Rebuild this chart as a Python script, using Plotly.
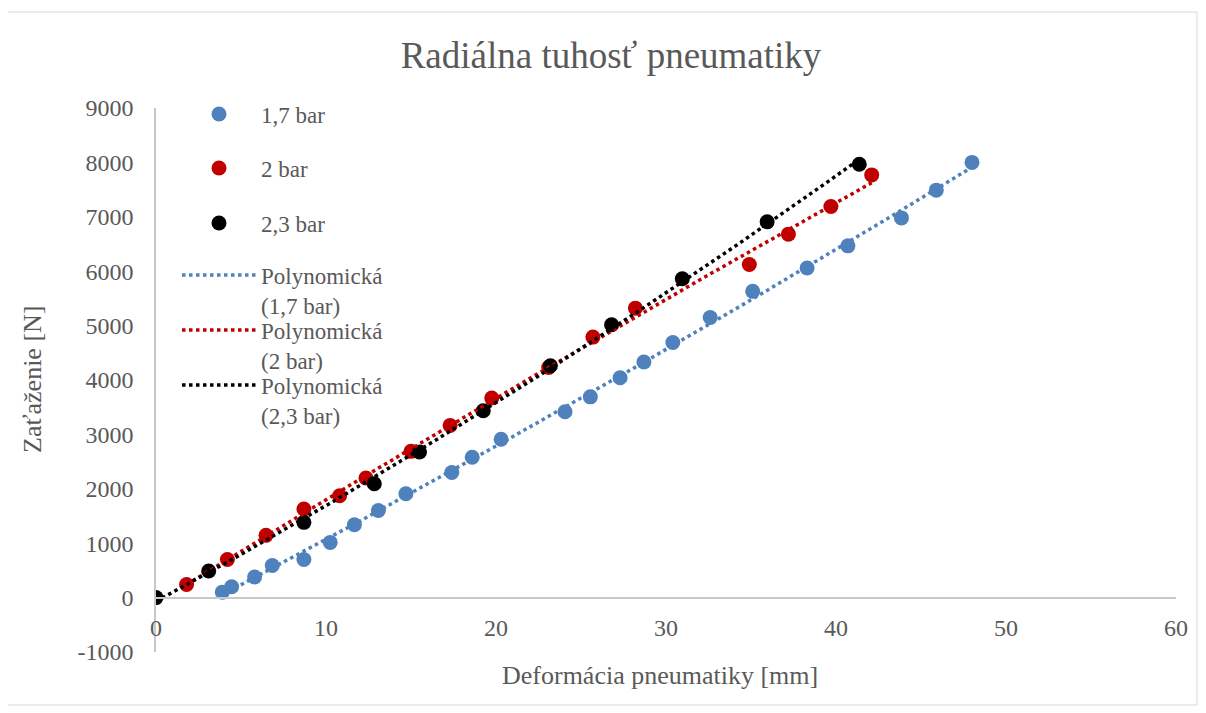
import numpy as np
import plotly.graph_objects as go

# ---- data ----
blue_x = [3.9, 4.45, 5.8, 6.84, 8.7, 10.25, 11.67, 13.08, 14.7, 17.4, 18.6, 20.3,
          24.06, 25.55, 27.3, 28.7, 30.4, 32.6, 35.1, 38.3, 40.7, 43.85, 45.9, 48.0]
blue_y = [100, 200, 380, 590, 700, 1015, 1340, 1600, 1910, 2300, 2580, 2910,
          3415, 3690, 4040, 4330, 4690, 5150, 5630, 6060, 6466, 6980, 7490, 8000]

red_x = [1.8, 4.2, 6.47, 8.7, 10.8, 12.35, 15.0, 17.3, 19.75, 23.1, 25.7, 28.2,
         34.9, 37.2, 39.7, 42.1]
red_y = [240, 700, 1144, 1629, 1873, 2198, 2688, 3165, 3668, 4230, 4789, 5321,
         6123, 6681, 7189, 7770]

black_x = [0, 3.1, 8.7, 12.84, 15.5, 19.25, 23.2, 26.8, 30.96, 35.95, 41.37]
black_y = [0, 490, 1383, 2094, 2676, 3435, 4262, 5015, 5860, 6907, 7966]

series_names = ["1,7 bar", "2 bar", "2,3 bar"]
trend_names = ["Polynomická<br>(1,7 bar)", "Polynomická<br>(2 bar)", "Polynomická<br>(2,3 bar)"]
colors = ["#4F81BD", "#C00000", "#000000"]

x_ticks = [0, 10, 20, 30, 40, 50, 60]
y_ticks = [-1000, 0, 1000, 2000, 3000, 4000, 5000, 6000, 7000, 8000, 9000]
y_tick_text = ["-1000", "0", "1000", "2000", "3000", "4000", "5000", "6000", "7000", "8000", "9000"]

FONT = "Liberation Serif"
GRAY = "#595959"

W, H = 1206, 713
OFF = 8  # page body margin
# plot area in screen pixels
SX0, SX1, SY0, SY1 = 156, 1176, 108, 652
L = SX0 - OFF
T = SY0 - OFF
pw = SX1 - SX0
ph = SY1 - SY0
R = W - L - pw
B = H - T - ph


def px(xs):
    return (xs - SX0) / pw


def py(ys):
    return (SY1 - ys) / ph


fig = go.Figure()
data = [(blue_x, blue_y), (red_x, red_y), (black_x, black_y)]

# legend row centres (screen y) in the reference
marker_rows = [114, 168, 223]
trend_rows = [275, 330, 385]
ITEMW = 74
LEG_X = 219 - (ITEMW / 2 + 5)
LEG_FONT = 23
line_h = LEG_FONT * 1.3

legends = {}
for i, ((xs, ys), name, col) in enumerate(zip(data, series_names, colors)):
    key = "legend" if i == 0 else f"legend{i + 1}"
    fig.add_trace(go.Scatter(
        x=xs, y=ys, mode="markers", name=name, legend=key,
        marker=dict(color=col, size=15, line=dict(width=0)),
    ))
    legends[key] = dict(x=px(LEG_X), y=py(marker_rows[i]), xanchor="left", yanchor="middle",
                        font=dict(family=FONT, size=LEG_FONT, color=GRAY),
                        bgcolor="rgba(0,0,0,0)", valign="top", itemwidth=ITEMW)

for i, ((xs, ys), name, col) in enumerate(zip(data, trend_names, colors)):
    key = f"legend{i + 4}"
    coef = np.polyfit(xs, ys, 2)
    tx = np.linspace(min(xs), max(xs), 200)
    ty = np.polyval(coef, tx)
    fig.add_trace(go.Scatter(
        x=tx, y=ty, mode="lines", name=name, legend=key,
        line=dict(color=col, width=3.5, dash="dot"),
    ))
    legends[key] = dict(x=px(LEG_X), y=py(trend_rows[i] + line_h / 2), xanchor="left", yanchor="middle",
                        font=dict(family=FONT, size=LEG_FONT, color=GRAY),
                        bgcolor="rgba(0,0,0,0)", valign="top", itemwidth=ITEMW)

fig.update_layout(
    width=W, height=H,
    margin=dict(l=L, r=R, t=T, b=B, pad=0),
    paper_bgcolor="white", plot_bgcolor="white",
    font=dict(family=FONT, color=GRAY, size=22),
    title=dict(text="Radiálna tuhosť pneumatiky", font=dict(family=FONT, size=37, color=GRAY),
               x=(611 - OFF) / W, xanchor="center", xref="container",
               y=1 - (55 - OFF) / H, yanchor="middle", yref="container"),
    showlegend=True,
    xaxis=dict(range=[0, 60], tickvals=x_ticks, showgrid=False, zeroline=False,
               showline=True, linecolor="#C8C8C8", linewidth=1.5,
               anchor="free", position=0.1, ticks="", ticklabelstandoff=9,
               tickfont=dict(family=FONT, size=24, color=GRAY)),
    yaxis=dict(range=[-1000, 9000], tickvals=y_ticks, ticktext=y_tick_text,
               showgrid=False, zeroline=False,
               showline=True, linecolor="#C8C8C8", linewidth=1.5,
               ticks="", ticklabelstandoff=16,
               tickfont=dict(family=FONT, size=24, color=GRAY)),
    annotations=[
        dict(text="Deformácia pneumatiky [mm]", xref="paper", yref="paper",
             x=px(660), y=py(675), xanchor="center", yanchor="middle", showarrow=False,
             font=dict(family=FONT, size=26, color=GRAY)),
        dict(text="Zaťaženie [N]", xref="paper", yref="paper", textangle=-90,
             x=px(32), y=py(379), xanchor="center", yanchor="middle", showarrow=False,
             font=dict(family=FONT, size=26, color=GRAY)),
    ],
    shapes=[dict(type="rect", xref="paper", yref="paper",
                 x0=px(7), x1=px(1197), y0=py(705), y1=py(12),
                 line=dict(color="#D9D9D9", width=1), fillcolor="rgba(0,0,0,0)")],
    **legends,
)

fig.write_html("out.html")
